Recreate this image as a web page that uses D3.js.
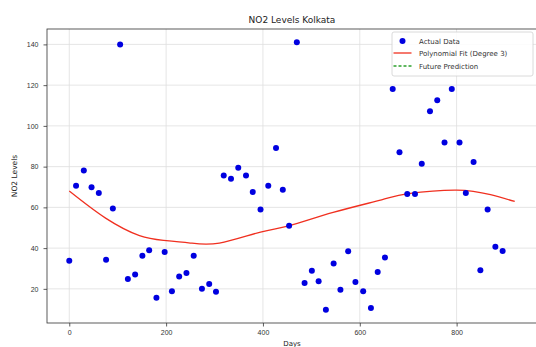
<!DOCTYPE html>
<html>
<head>
<meta charset="utf-8">
<script src="https://cdn.jsdelivr.net/npm/d3@7"></script>
<style>
  body { margin: 0; background: #fff; }
  svg { display: block; font-family: "DejaVu Sans", sans-serif; }
  .axis path, .axis line { stroke: #333; stroke-width: 0.8; }
  .axis text { font-size: 7px; fill: #333; }
  .grid line { stroke: #dedede; stroke-width: 0.8; }
</style>
</head>
<body>
<div class="chart"></div>
<script>
// Data

const days = [0, 14, 30, 46, 61, 76, 90, 105, 121, 136, 151, 165, 180, 197, 212, 227, 242, 257, 274, 289,
  303, 319, 334, 349, 365, 379, 395, 411, 427, 441, 454, 470, 486, 501, 515, 530, 546, 560, 576, 591,
  607, 623, 637, 652, 668, 682, 698, 714, 728, 745, 760, 775, 790, 806, 819, 835, 849, 864, 880, 895];
const no2 = [33.8, 70.6, 78.1, 69.9, 67, 34.3, 59.4, 140, 24.9, 27.1, 36.3, 38.9, 15.6, 38.1, 18.8, 26.1, 27.8, 36.3, 20, 22.4,
  18.6, 75.6, 74, 79.5, 75.6, 67.6, 59, 70.6, 89.2, 68.6, 51, 141, 22.9, 28.9, 23.7, 9.8, 32.4, 19.6, 38.4, 23.4,
  18.8, 10.6, 28.3, 35.4, 118.1, 87.1, 66.6, 66.6, 81.4, 107.2, 112.6, 91.8, 118.1, 91.8, 67.1, 82.3, 29.1, 59, 40.7, 38.6];

// fitted curve
const fitDays = [0, 75, 145, 195, 250, 310, 395, 455, 545, 645, 700, 800, 870, 920];
const fitNo2 = [68, 54.7, 46.1, 43.8, 42.5, 42.5, 47.9, 51, 57.5, 63.7, 66.7, 68.5, 66.2, 62.9];

const xTicks = [0, 200, 400, 600, 800];
const yTicks = [20, 40, 60, 80, 100, 120, 140];

const legendItems = ["Actual Data", "Polynomial Fit (Degree 3)", "Future Prediction"];

// Measurements

const width = 536;
const height = 347;
const margin = { top: 29, right: -1, bottom: 24, left: 47 };
const w = width - margin.left - margin.right;
const h = height - margin.top - margin.bottom;

const svg = d3
  .select(".chart")
  .append("svg")
  .attr("width", width)
  .attr("height", height);

const g = svg.append("g").attr("transform", `translate(${margin.left}, ${margin.top})`);

// Scales

const xScale = d3.scaleLinear().domain([-46, 966]).range([0, w]);
const yScale = d3.scaleLinear().domain([3.24, 147.56]).range([h, 0]);

// Grid

g.append("g")
  .attr("class", "grid")
  .selectAll("line.v")
  .data(xTicks)
  .enter()
  .append("line")
  .attr("x1", (d) => xScale(d))
  .attr("x2", (d) => xScale(d))
  .attr("y1", 0)
  .attr("y2", h);

g.append("g")
  .attr("class", "grid")
  .selectAll("line.h")
  .data(yTicks)
  .enter()
  .append("line")
  .attr("x1", 0)
  .attr("x2", w)
  .attr("y1", (d) => yScale(d))
  .attr("y2", (d) => yScale(d));

// Fit line

const line = d3
  .line()
  .x((d, i) => xScale(fitDays[i]))
  .y((d) => yScale(d))
  .curve(d3.curveNatural);

g.append("path")
  .datum(fitNo2)
  .attr("d", line)
  .attr("fill", "none")
  .attr("stroke", "#f03020")
  .attr("stroke-width", 1.3);

// Dots

g.selectAll("circle")
  .data(days)
  .enter()
  .append("circle")
  .attr("cx", (d) => xScale(d))
  .attr("cy", (d, i) => yScale(no2[i]))
  .attr("r", 3)
  .attr("fill", "#0000e0");

// Frame and axes

g.append("rect")
  .attr("width", w)
  .attr("height", h)
  .attr("fill", "none")
  .attr("stroke", "#333")
  .attr("stroke-width", 0.8);

g.append("g")
  .attr("class", "axis")
  .attr("transform", `translate(0, ${h})`)
  .call(d3.axisBottom(xScale).tickValues(xTicks).tickSize(3.5).tickPadding(4).tickSizeOuter(0))
  .call((a) => a.select(".domain").remove());

g.append("g")
  .attr("class", "axis")
  .call(d3.axisLeft(yScale).tickValues(yTicks).tickSize(3.5).tickPadding(5).tickSizeOuter(0))
  .call((a) => a.select(".domain").remove());

// Titles

svg.append("text")
  .attr("x", margin.left + w / 2)
  .attr("y", 22.5)
  .attr("text-anchor", "middle")
  .attr("font-size", 9)
  .attr("fill", "#222")
  .text("NO2 Levels Kolkata");

svg.append("text")
  .attr("x", margin.left + w / 2)
  .attr("y", 346)
  .attr("text-anchor", "middle")
  .attr("font-size", 7)
  .attr("fill", "#222")
  .text("Days");

svg.append("text")
  .attr("transform", `translate(17, ${margin.top + h / 2}) rotate(-90)`)
  .attr("text-anchor", "middle")
  .attr("font-size", 7.5)
  .attr("fill", "#222")
  .text("NO2 Levels");

// Legend

const legend = svg.append("g").attr("transform", "translate(392, 32)");

legend.append("rect")
  .attr("width", 141)
  .attr("height", 44)
  .attr("rx", 2)
  .attr("fill", "rgba(255,255,255,0.85)")
  .attr("stroke", "#d0d0d0")
  .attr("stroke-width", 0.8);

legend.append("circle").attr("cx", 10.5).attr("cy", 9).attr("r", 3).attr("fill", "#0000e0");
legend.append("line")
  .attr("x1", 1.5).attr("x2", 19.5).attr("y1", 21).attr("y2", 21)
  .attr("stroke", "#f03020").attr("stroke-width", 1.3);
legend.append("line")
  .attr("x1", 1.5).attr("x2", 19.5).attr("y1", 34).attr("y2", 34)
  .attr("stroke", "#2ca02c").attr("stroke-width", 1.3).attr("stroke-dasharray", "3,2");

legend.selectAll("text")
  .data(legendItems)
  .enter()
  .append("text")
  .attr("x", 27)
  .attr("y", (d, i) => 11.5 + i * 12.7)
  .attr("font-size", 7)
  .attr("fill", "#333")
  .text((d) => d);
</script>
</body>
</html>
